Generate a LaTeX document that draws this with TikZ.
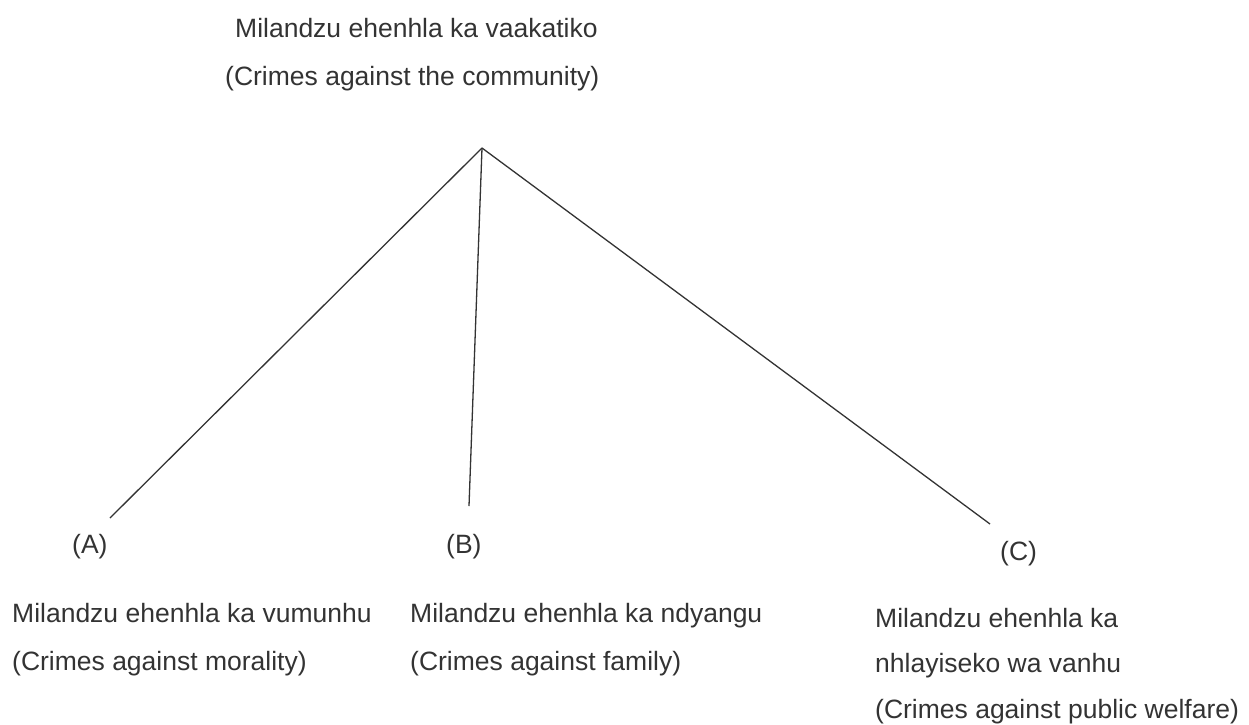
\documentclass[tikz,border=0pt]{standalone}
\usepackage{fontspec}
\setmainfont{Liberation Sans}
\definecolor{ink}{HTML}{333333}
\begin{document}
\begin{tikzpicture}[x=1pt,y=-1pt,
        every node/.style={inner sep=0pt,anchor=base west,text=ink,align=left,
            font=\fontsize{26.5}{48}\selectfont},
        branch/.style={draw=ink,line width=1.3pt}]
        \useasboundingbox (0,0) rectangle (1249,724);
        \node (crimes) at (225,85) {\hspace{10pt}Milandzu ehenhla ka vaakatiko\\(Crimes against the community)};
        \coordinate (top) at (482,148);
        \foreach \n/\lx/\ly/\ex/\ey in {A/72/553/110/518, B/446/553/469/506, C/1000/560/990/524}
        {
            \coordinate (end\n) at (\ex,\ey);
            \node (tag\n) at (\lx,\ly) {(\n)};
            \draw[branch] (top) -- (end\n);
        }
        \node (morality) at (12,670) {Milandzu ehenhla ka vumunhu\\(Crimes against morality)};
        \node (family) at (410,670) {Milandzu ehenhla ka ndyangu\\(Crimes against family)};
        \node[font=\fontsize{26.5}{45.5}\selectfont] (welfare) at (875,718)
            {Milandzu ehenhla ka\\nhlayiseko wa vanhu\\(Crimes against public welfare)};
\end{tikzpicture}
\end{document}
